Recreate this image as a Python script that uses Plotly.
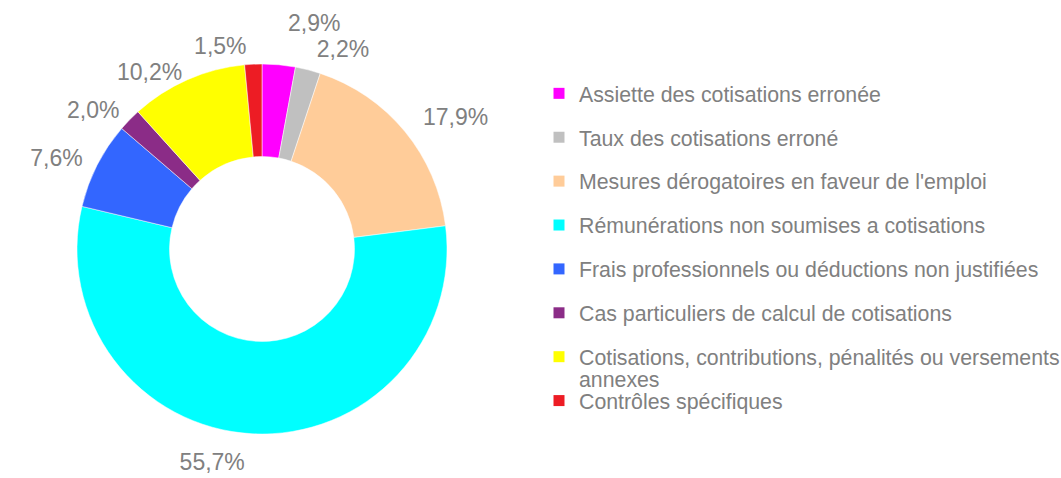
import plotly.graph_objects as go

categories = [
    "Assiette des cotisations erronée",
    "Taux des cotisations erroné",
    "Mesures dérogatoires en faveur de l'emploi",
    "Rémunérations non soumises a cotisations",
    "Frais professionnels ou déductions non justifiées",
    "Cas particuliers de calcul de cotisations",
    "Cotisations, contributions, pénalités ou versements<br>annexes",
    "Contrôles spécifiques",
]
values = [2.9, 2.2, 17.9, 55.7, 7.6, 2.0, 10.2, 1.5]
colors = ["#FF00FF", "#C0C0C0", "#FFCC99", "#00FFFF", "#3366FF", "#8B2C87", "#FFFF00", "#ED1C24"]
# which transparent label ring carries each percentage label
label_ring = [0, 2, 1, 1, 2, 3, 4, 3]

W, H = 1061, 478
GRAY = "#808080"
FONT = "Liberation Sans, Arial"
CX, CY, R = 262, 249, 185                  # donut centre / radius (px)
RING_R = [214, 200, 194, 190, 182]         # radii of the transparent label rings
LEG_X, LEG_TOP = 579, 73
ANNEX_Y = 380                              # vertical position of the wrapped legend line

labels_txt = [f"{v:.1f}%".replace(".", ",") for v in values]


def dom(r):
    return dict(x=[(CX - r) / W, (CX + r) / W], y=[1 - (CY + r) / H, 1 - (CY - r) / H])


fig = go.Figure()
fig.add_trace(go.Pie(
    labels=categories,
    values=values,
    marker=dict(colors=colors, line=dict(color="white", width=0.5)),
    hole=0.5,
    sort=False,
    direction="clockwise",
    rotation=0,
    textinfo="none",
    showlegend=False,
    domain=dom(R),
))
# transparent rings carrying the outside percentage labels
for ring, rr in enumerate(RING_R):
    txt = [t if label_ring[i] == ring else "" for i, t in enumerate(labels_txt)]
    fig.add_trace(go.Pie(
        labels=categories,
        values=values,
        text=txt,
        marker=dict(colors=["rgba(0,0,0,0)"] * len(values), line=dict(width=0)),
        hole=0.97,
        sort=False,
        direction="clockwise",
        rotation=0,
        textposition="outside",
        texttemplate="%{text}",
        textfont=dict(family=FONT, size=23, color=GRAY),
        hoverinfo="skip",
        showlegend=False,
        domain=dom(rr),
    ))

extra_lines = []
for i, (name, col) in enumerate(zip(categories, colors)):
    parts = name.split("<br>")
    fig.add_trace(go.Scatter(
        x=[None], y=[None], mode="markers", name=parts[0], legendgroup=f"g{i}",
        marker=dict(symbol="square", size=11, color=col),
        hoverinfo="skip",
    ))
    extra_lines += parts[1:]

for extra in extra_lines:
    fig.add_annotation(
        text=extra, xref="paper", yref="paper",
        x=(LEG_X - 2) / W, xanchor="left",
        y=1 - ANNEX_Y / H, yanchor="middle",
        showarrow=False, font=dict(family=FONT, size=21.3, color=GRAY),
    )

fig.update_layout(
    width=W, height=H,
    margin=dict(l=0, r=0, t=0, b=0, autoexpand=False),
    paper_bgcolor="white", plot_bgcolor="white",
    font=dict(family=FONT, color=GRAY),
    xaxis=dict(visible=False), yaxis=dict(visible=False),
    legend=dict(
        x=(LEG_X - 40) / W, xanchor="left", y=1 - LEG_TOP / H, yanchor="top",
        font=dict(family=FONT, size=21.3, color=GRAY),
        tracegroupgap=13.2, itemclick=False, itemdoubleclick=False,
        bgcolor="rgba(0,0,0,0)", valign="top",
    ),
)

fig.write_html(
    "out.html",
    config={"displayModeBar": False},
    post_script="document.body.style.margin='0';document.body.style.overflow='hidden';",
)
